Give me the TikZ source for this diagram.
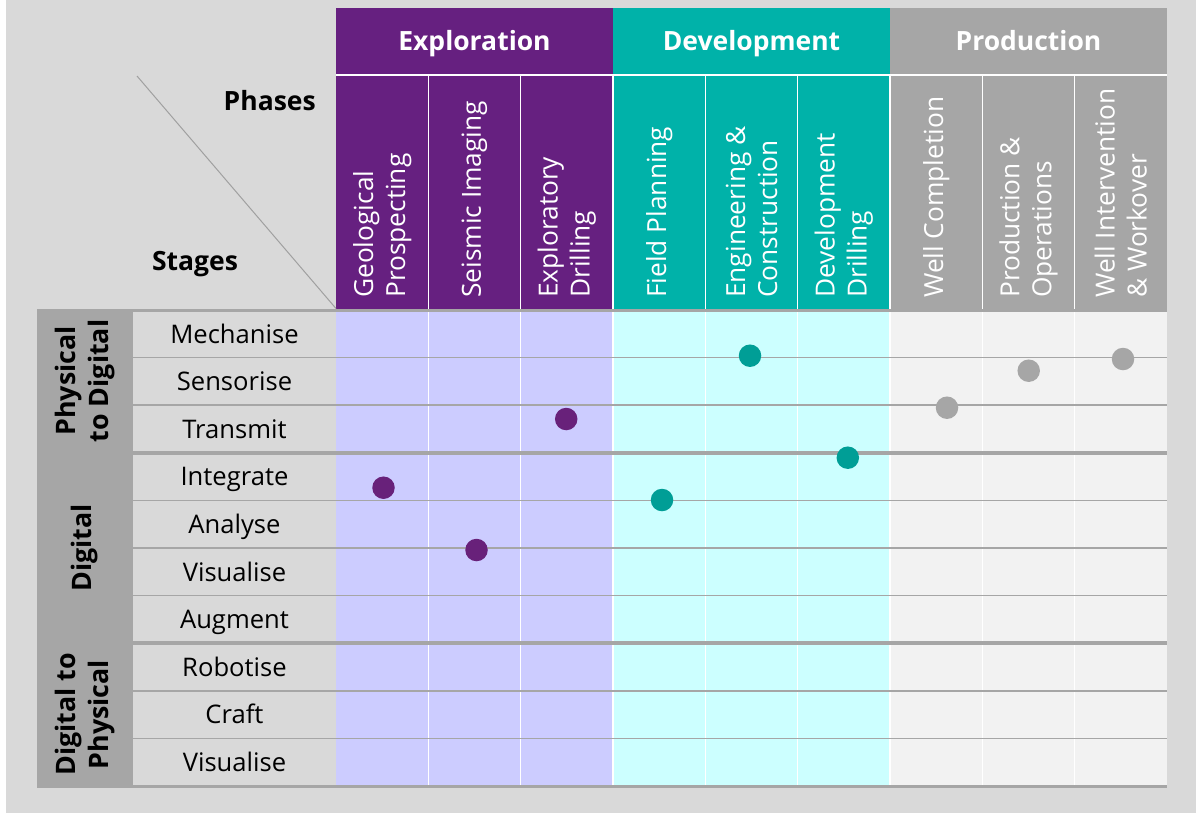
\documentclass[tikz,border=0pt]{standalone}
\usepackage{fontspec}
\setmainfont{Open Sans}
\definecolor{bgc}{HTML}{D9D9D9}
\definecolor{pur}{HTML}{662080}
\definecolor{tea}{HTML}{00B2A9}
\definecolor{prd}{HTML}{A6A6A6}
\definecolor{lav}{HTML}{CCCCFF}
\definecolor{cyn}{HTML}{CCFFFF}
\definecolor{pcell}{HTML}{F2F2F2}
\definecolor{gline}{HTML}{A6A6A6}
\definecolor{dpur}{HTML}{68217A}
\definecolor{dtea}{HTML}{009E96}
\definecolor{dgry}{HTML}{A6A6A6}
\definecolor{diagc}{HTML}{A0A0A0}
\begin{document}
\begin{tikzpicture}[x=1pt,y=-1pt,
  phasehead/.style={anchor=base,text=white,font=\bfseries\fontsize{26.5}{30}\selectfont,inner sep=0},
  colhead/.style={rotate=90,anchor=west,align=left,text=white,font=\fontsize{26.3}{32}\selectfont,inner sep=0},
  rowlab/.style={anchor=base,text=black,font=\fontsize{25.6}{30}\selectfont,inner sep=0},
  grouplab/.style={rotate=90,anchor=center,align=center,text=black,font=\bfseries\fontsize{26.8}{33.5}\selectfont,inner sep=0},
  cornerlab/.style={text=black,font=\bfseries\fontsize{26.5}{30}\selectfont,inner sep=0},
  thinrule/.style={draw=gline,line width=1.5pt},
  thickrule/.style={draw=gline,line width=3.5pt},
  colsep/.style={draw=white,line width=1.5pt},
  dot/.style={circle,minimum size=22.5pt,inner sep=0,draw=none},
  dotp/.style={dot,fill=dpur},
  dott/.style={dot,fill=dtea},
  dotg/.style={dot,fill=dgry}]
\useasboundingbox (0,0) rectangle (1196,815);
\fill[bgc] (6,0) rectangle (1196,813);
% phase header row
\fill[pur] (336,8) rectangle (613,73.5);
\fill[tea] (613,8) rectangle (890,73.5);
\fill[prd] (890,8) rectangle (1167,73.5);
\fill[white] (336,73.5) rectangle (1167,76);
% column header row
\fill[pur] (336,76) rectangle (613,310);
\fill[tea] (613,76) rectangle (890,310);
\fill[prd] (890,76) rectangle (1167,310);
% grid cells
\fill[lav] (336,310) rectangle (613,786);
\fill[cyn] (613,310) rectangle (890,786);
\fill[pcell] (890,310) rectangle (1167,786);
% column separators
\foreach \i in {1,...,8}
  \draw[colsep] ({336+\i*92.333},76) -- ({336+\i*92.333},786);
% group column
\fill[gline] (37,309) rectangle (133,788);
% row rules
\foreach \y in {357.6,405.2,500.4,548,595.6,690.8,738.4}
  \draw[thinrule] (133,\y) -- (1167,\y);
\foreach \y in {452.8,643.2}
  \draw[thickrule] (133,\y) -- (1167,\y);
\fill[gline] (37,308.5) rectangle (1167,311.5);
\fill[gline] (37,784.5) rectangle (1167,788);
% diagonal
\coordinate (dgA) at (137,76);
\coordinate (dgB) at (336,308.5);
\draw[diagc,line width=1pt] (dgA) -- (dgB);
% corner labels
\node[cornerlab,anchor=base east] (phases) at (316,110) {Phases};
\node[cornerlab,anchor=base] (stages) at (195,270) {Stages};
% phase headers
\node[phasehead] (hexp) at (474.5,50.8) {Exploration};
\node[phasehead] (hdev) at (751.5,50.8) {Development};
\node[phasehead] (hprd) at (1028.5,50.8) {Production};
% column headers
\node[colhead] (c1) at (382.2,298) {Geological\\Prospecting};
\node[colhead] (c2) at (474.5,298) {Seismic Imaging};
\node[colhead] (c3) at (566.8,298) {Exploratory\\Drilling};
\node[colhead] (c4) at (659.2,298) {Field Planning};
\node[colhead] (c5) at (751.5,298) {Engineering \&\\Construction};
\node[colhead] (c6) at (843.8,298) {Development\\Drilling};
\node[colhead] (c7) at (936.2,298) {Well Completion};
\node[colhead] (c8) at (1028.5,298) {Production \&\\Operations};
\node[colhead] (c9) at (1120.8,298) {Well Intervention\\\& Workover};
% row labels
\node[rowlab] (r1) at (234.5,343) {Mechanise};
\node[rowlab] (r2) at (234.5,390.6) {Sensorise};
\node[rowlab] (r3) at (234.5,438.2) {Transmit};
\node[rowlab] (r4) at (234.5,485.8) {Integrate};
\node[rowlab] (r5) at (234.5,533.4) {Analyse};
\node[rowlab] (r6) at (234.5,581.0) {Visualise};
\node[rowlab] (r7) at (234.5,628.6) {Augment};
\node[rowlab] (r8) at (234.5,676.2) {Robotise};
\node[rowlab] (r9) at (234.5,723.8) {Craft};
\node[rowlab] (r10) at (234.5,771.4) {Visualise};
% group labels
\node[grouplab] (g1) at (85,381) {Physical\\to Digital};
\node[grouplab] (g2) at (85,548) {Digital};
\node[grouplab] (g3) at (85,714.5) {Digital to\\Physical};
% dots
\node[dotp] (p1) at (383.5,487.7) {};
\node[dotp] (p2) at (476.5,550) {};
\node[dotp] (p3) at (566.2,419) {};
\node[dott] (t1) at (750,355.7) {};
\node[dott] (t2) at (662,500) {};
\node[dott] (t3) at (847.8,457.7) {};
\node[dotg] (q1) at (947,407.7) {};
\node[dotg] (q2) at (1028.7,370.7) {};
\node[dotg] (q3) at (1123,359) {};
\end{tikzpicture}
\end{document}
